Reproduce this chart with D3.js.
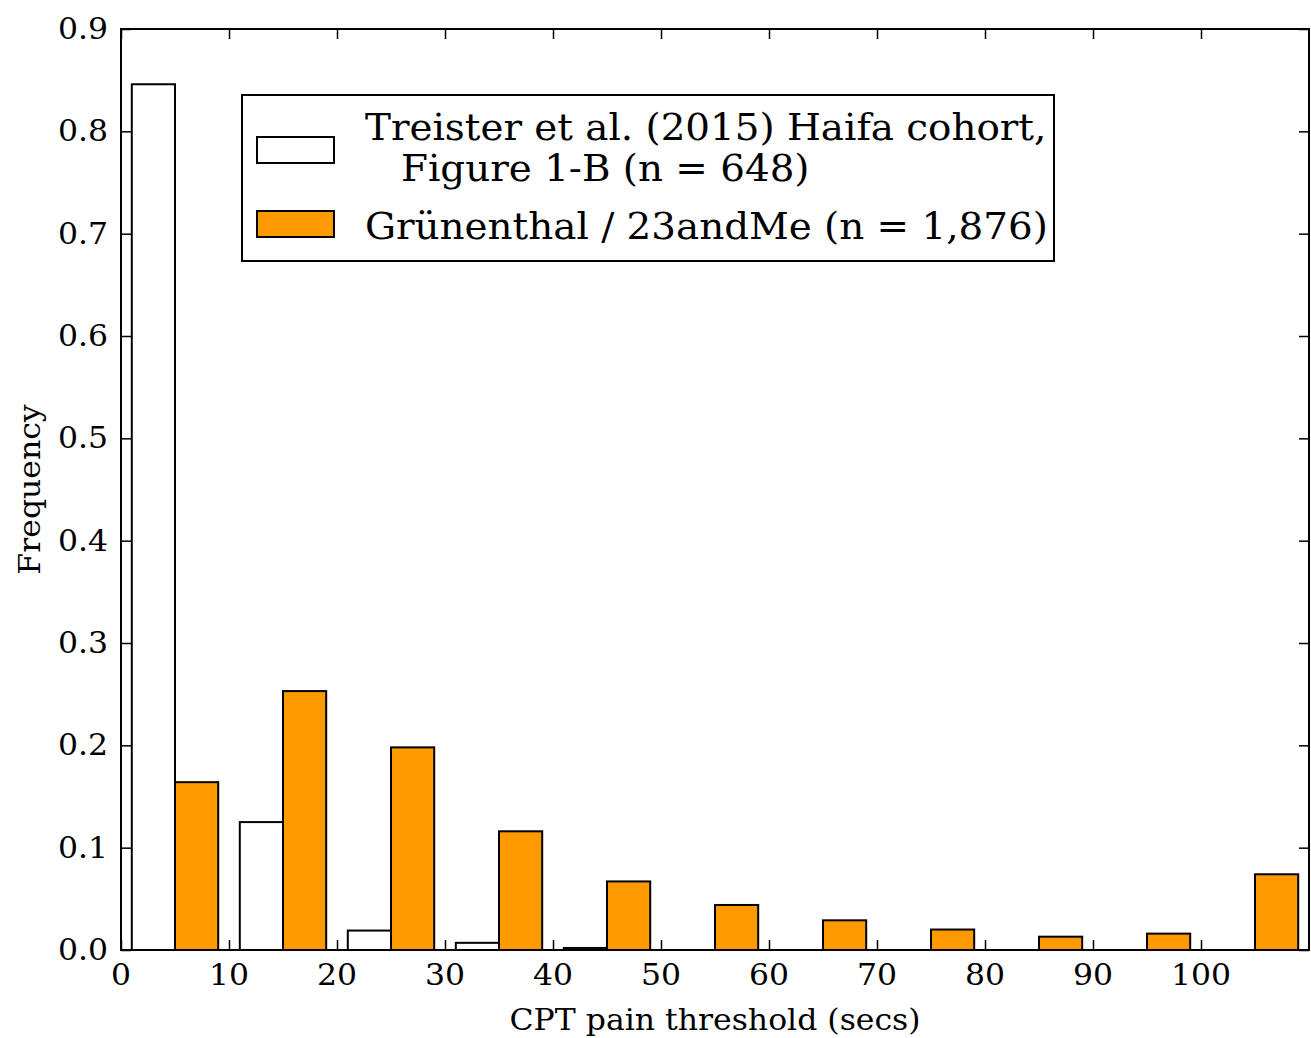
<!DOCTYPE html>
<html>
<head>
<meta charset="utf-8">
<script src="https://cdn.jsdelivr.net/npm/d3@7"></script>
<style>
  body { margin: 0; background: #fff; }
  text { font-family: "DejaVu Serif", serif; fill: #000; }
</style>
</head>
<body>
<div id="graph"></div>
<script>
// histogram bins (left edge of each 10-sec bin)
const binStarts = [0, 10, 20, 30, 40, 50, 60, 70, 80, 90, 100];
const treisterFreq = [0.846, 0.125, 0.019, 0.007, 0.002, 0, 0, 0, 0, 0, 0];
const grunenthalFreq = [0.164, 0.253, 0.198, 0.116, 0.067, 0.044, 0.029, 0.020, 0.013, 0.016, 0.074];
const xTicks = [0, 10, 20, 30, 40, 50, 60, 70, 80, 90, 100];
const yTicks = [0.0, 0.1, 0.2, 0.3, 0.4, 0.5, 0.6, 0.7, 0.8, 0.9];
const seriesNames = ["Treister et al. (2015) Haifa cohort,", "Figure 1-B (n = 648)", "Grünenthal / 23andMe (n = 1,876)"];

const w = 1311;
const h = 1038;
const mLeft = 121, mRight = 1309, mTop = 29, mBottom = 950;
const sx = 1.05; // text is a bit wider than plain DejaVu Serif in the reference

const xScale = d3.scaleLinear().domain([0, 110]).range([mLeft, mRight]);
const yScale = d3.scaleLinear().domain([0, 0.9]).range([mBottom, mTop]);

const svg = d3.select("#graph")
  .append("svg")
  .attr("width", w)
  .attr("height", h);

// bars: each bin has two bars of width 4, offset 1 from the bin start
const bars = [
  { vals: treisterFreq, off: 1, fill: "#ffffff" },
  { vals: grunenthalFreq, off: 5, fill: "#ff9900" }
];

bars.forEach((s) => {
  svg.append("g")
    .selectAll("rect")
    .data(binStarts)
    .enter()
    .append("rect")
    .attr("x", (d) => xScale(d + s.off))
    .attr("y", (d, i) => yScale(s.vals[i]))
    .attr("width", (d) => xScale(d + s.off + 4) - xScale(d + s.off))
    .attr("height", (d, i) => yScale(0) - yScale(s.vals[i]))
    .attr("fill", s.fill)
    .attr("stroke", "#000")
    .attr("stroke-width", 2);
});

// inward ticks on all four sides
const xAxisB = d3.axisBottom(xScale).tickValues(xTicks).tickSizeInner(-10).tickSizeOuter(0).tickFormat("");
const xAxisT = d3.axisTop(xScale).tickValues(xTicks).tickSizeInner(-10).tickSizeOuter(0).tickFormat("");
const yAxisL = d3.axisLeft(yScale).tickValues(yTicks).tickSizeInner(-10).tickSizeOuter(0).tickFormat("");
const yAxisR = d3.axisRight(yScale).tickValues(yTicks).tickSizeInner(-10).tickSizeOuter(0).tickFormat("");

svg.append("g").attr("transform", `translate(0, ${mBottom})`).call(xAxisB);
svg.append("g").attr("transform", `translate(0, ${mTop})`).call(xAxisT);
svg.append("g").attr("transform", `translate(${mLeft}, 0)`).call(yAxisL);
svg.append("g").attr("transform", `translate(${mRight}, 0)`).call(yAxisR);
svg.selectAll(".domain").remove();
svg.selectAll(".tick line").attr("stroke", "#000").attr("stroke-width", 1.5);

// frame
svg.append("rect")
  .attr("x", mLeft).attr("y", mTop)
  .attr("width", mRight - mLeft).attr("height", mBottom - mTop)
  .attr("fill", "none").attr("stroke", "#000").attr("stroke-width", 2);

// tick labels
svg.append("g")
  .selectAll("text")
  .data(xTicks)
  .enter()
  .append("text")
  .attr("transform", (d) => `translate(${xScale(d)}, 985) scale(${sx}, 1)`)
  .attr("text-anchor", "middle")
  .attr("font-size", 30)
  .text((d) => d);

svg.append("g")
  .selectAll("text")
  .data(yTicks)
  .enter()
  .append("text")
  .attr("transform", (d) => `translate(108, ${yScale(d) + 10}) scale(${sx}, 1)`)
  .attr("text-anchor", "end")
  .attr("font-size", 30)
  .text((d) => d.toFixed(1));

// axis titles
svg.append("text")
  .attr("transform", `translate(${(mLeft + mRight) / 2}, 1030) scale(${sx}, 1)`)
  .attr("text-anchor", "middle")
  .attr("font-size", 30)
  .text("CPT pain threshold (secs)");

svg.append("text")
  .attr("transform", `translate(40, ${(mTop + mBottom) / 2}) rotate(-90) scale(${sx}, 1)`)
  .attr("text-anchor", "middle")
  .attr("font-size", 30)
  .text("Frequency");

// legend
const lg = svg.append("g");
lg.append("rect")
  .attr("x", 242).attr("y", 95).attr("width", 812).attr("height", 166)
  .attr("fill", "#fff").attr("stroke", "#000").attr("stroke-width", 2);
lg.append("rect")
  .attr("x", 257).attr("y", 137).attr("width", 77).attr("height", 26)
  .attr("fill", bars[0].fill).attr("stroke", "#000").attr("stroke-width", 2);
lg.append("rect")
  .attr("x", 257).attr("y", 211).attr("width", 77).attr("height", 26)
  .attr("fill", bars[1].fill).attr("stroke", "#000").attr("stroke-width", 2);

const legendText = [
  { t: seriesNames[0], x: 365, y: 140 },
  { t: seriesNames[1], x: 401, y: 181 },
  { t: seriesNames[2], x: 365, y: 239 }
];
lg.selectAll("text.lt")
  .data(legendText)
  .enter()
  .append("text")
  .attr("class", "lt")
  .attr("transform", (d) => `translate(${d.x}, ${d.y}) scale(${sx}, 1)`)
  .attr("font-size", 37)
  .text((d) => d.t);
</script>
</body>
</html>
